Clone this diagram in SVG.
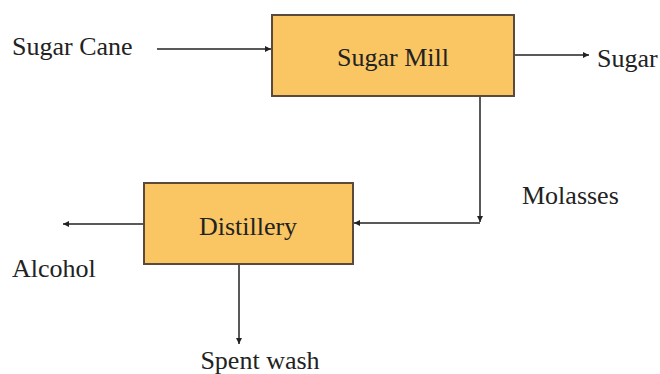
<svg xmlns="http://www.w3.org/2000/svg" width="660" height="374" viewBox="0 0 660 374">
<style>
.box{fill:#FAC663;stroke:#5b4a3c;stroke-width:2}
.lbl{font-family:'Liberation Serif','Times New Roman','DejaVu Serif',serif;font-size:26px;fill:#222}
.c{fill:none;stroke:#222;stroke-width:1.5}
</style>
<defs>
<marker id="ah" viewBox="0 0 10 10" refX="10" refY="5" markerWidth="6" markerHeight="6" markerUnits="userSpaceOnUse" orient="auto">
<path d="M0,0 L10,5 L0,10 z" fill="#222"/>
</marker>
</defs>
<rect width="660" height="374" fill="#fff"/>
<g id="connectors">
<line class="c" x1="157" y1="49" x2="271" y2="49" marker-end="url(#ah)"/>
<line class="c" x1="515" y1="55" x2="589" y2="55" marker-end="url(#ah)"/>
<polyline class="c" points="480,97 480,222" marker-end="url(#ah)"/>
<line class="c" x1="480" y1="223" x2="354" y2="223" marker-end="url(#ah)"/>
<line class="c" x1="143" y1="224" x2="63" y2="224" marker-end="url(#ah)"/>
<line class="c" x1="239" y1="265" x2="239" y2="344" marker-end="url(#ah)"/>
</g>
<g id="sugar-mill">
<rect class="box" x="272" y="15" width="242" height="81"/>
<text class="lbl" x="393" y="66" text-anchor="middle" font-family="Liberation Serif">Sugar Mill</text>
</g>
<g id="distillery">
<rect class="box" x="144" y="183" width="209" height="81"/>
<text class="lbl" x="248" y="235" text-anchor="middle">Distillery</text>
</g>
<g id="sugar-cane"><text class="lbl" x="12" y="55">Sugar Cane</text></g>
<g id="sugar"><text class="lbl" x="597" y="67">Sugar</text></g>
<g id="molasses"><text class="lbl" x="522" y="204">Molasses</text></g>
<g id="alcohol"><text class="lbl" x="12" y="277">Alcohol</text></g>
<g id="spent-wash"><text class="lbl" x="260" y="369" text-anchor="middle">Spent wash</text></g>
</svg>
